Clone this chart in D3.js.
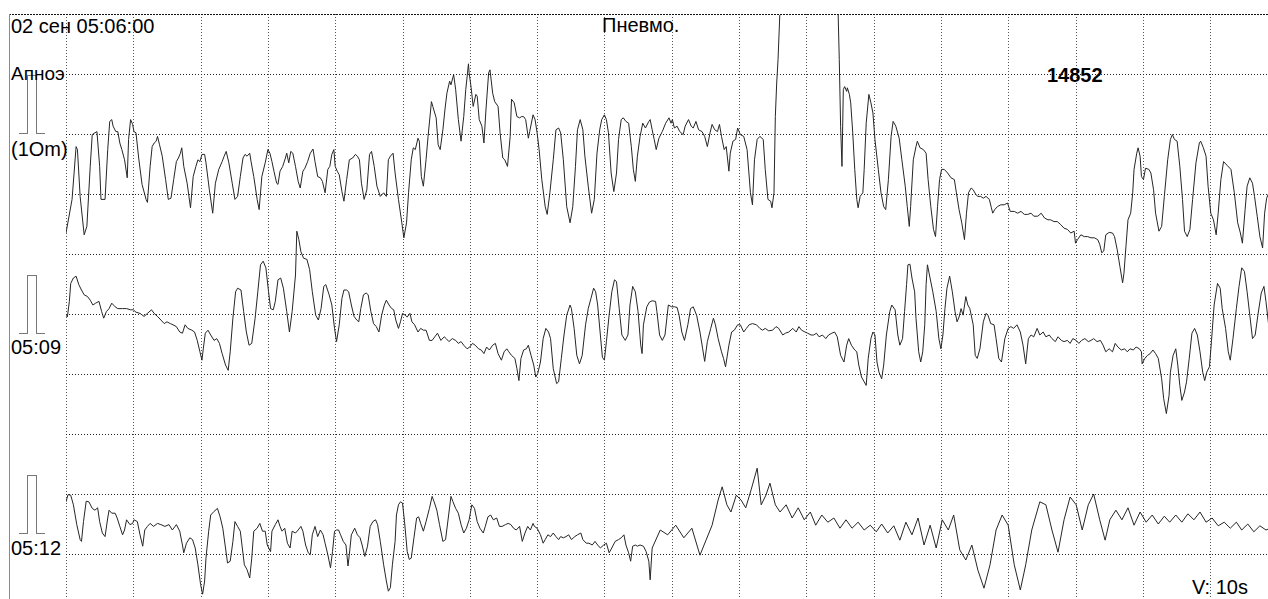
<!DOCTYPE html>
<html>
<head>
<meta charset="utf-8">
<script src="https://cdn.jsdelivr.net/npm/d3@7"></script>
<style>
	body { margin: 0; background: #fff; }
	svg { display: block; }
	text { font-family: "Liberation Sans", Arial, sans-serif; fill: #000; }
</style>
</head>
<body>
<div id="plot"></div>
<script>
// header / row texts
var headerDate = "02 сен 05:06:00";
var headerTitle = "Пневмо.";
var channelName = "Апноэ";
var channelScale = "(1Om)";
var rowTimes = ["05:09", "05:12"];
var recordNo = "14852";
var speedLabel = "V: 10s";

// time in seconds from row start, amplitude in 1/10 of a grid division
var trace1 = [[0,-6.5],[0.9,-0.9],[1.5,7.9],[1.7,7.4],[2.1,-0.4],[2.7,-6.8],[3.1,-5.4],[3.6,4.6],[3.9,9.9],[4.3,10.2],[4.6,10.4],[5.0,4.6],[5.2,-0.9],[5.8,-0.9],[6.2,7.4],[6.5,12.1],[6.8,12.4],[7.0,11.3],[7.4,10.4],[7.7,10.4],[8.0,8.5],[8.3,7.4],[8.7,5.7],[9.1,2.7],[9.3,9.1],[9.6,12.4],[9.9,11.6],[10.1,10.4],[10.4,10.2],[10.8,6],[11.3,1.6],[11.9,-0.9],[12.1,-1.4],[12.5,4.6],[12.8,7.9],[13.1,8.5],[13.4,8.8],[13.6,9.6],[13.9,8.2],[14.3,6.3],[14.8,2.4],[15.2,-0.9],[15.6,-0.7],[16,2.4],[16.4,5.4],[16.7,6],[17,6.8],[17.2,7.7],[17.5,4.6],[18,1.8],[18.5,-2.3],[18.9,2.9],[19.3,4.6],[19.6,5.7],[19.9,5.4],[20.2,6.6],[20.6,6.6],[20.8,5.2],[21.3,0.7],[21.8,-3.2],[22.2,1.8],[22.7,4.1],[23.2,5.4],[23.5,6.3],[23.8,7.1],[24.2,5.2],[24.7,1.8],[25.1,-0.9],[25.5,-0.4],[25.9,2.9],[26.3,6],[26.6,6.6],[26.9,6.3],[27.3,6.8],[27.5,5.4],[27.9,2.9],[28.4,-0.9],[28.7,-2.6],[29.1,2.9],[29.6,5.2],[30.0,7.4],[30.3,6.8],[30.6,5.4],[30.9,3.8],[31.3,1.8],[31.5,1.6],[31.8,3.8],[32.2,4.6],[32.6,6],[32.8,6.8],[33.1,5.2],[33.4,7.1],[33.7,6.8],[34.1,4.6],[34.5,2.1],[34.8,1],[35.2,3.8],[35.5,4.3],[35.9,5.4],[36.3,6.8],[36.7,7.5],[37,5.4],[37.4,2.9],[37.8,2.7],[38.1,2.1],[38.5,0.2],[38.9,4.1],[39.2,4.6],[39.5,6.6],[39.8,7.4],[40,4.6],[40.3,3.8],[40.6,3.2],[41,0.4],[41.3,-1.2],[41.7,2.4],[42.1,5.7],[42.6,6],[43,6.6],[43.3,6.3],[43.6,5.7],[43.9,1.8],[44.3,-0.9],[44.7,0.7],[45.1,6.6],[45.4,7.1],[45.8,4.6],[46.2,1.3],[46.7,-0.4],[47.2,0.2],[47.6,-0.4],[47.9,5.7],[48.2,6.3],[48.6,6.8],[48.9,3.5],[49.4,-0.9],[49.9,-4.8],[50.2,-7.3],[50.6,-4.8],[50.9,0.2],[51.3,5.7],[51.6,7.7],[51.9,7.4],[52.3,9.3],[52.5,8.8],[52.8,2.9],[53.1,1.3],[53.5,5.7],[53.8,9.6],[54.3,15.4],[54.5,14.6],[55,12.7],[55.3,8.2],[55.6,7.4],[56,10.7],[56.3,14],[56.6,16.8],[57,18.8],[57.2,18.2],[57.6,19.9],[57.9,17.4],[58.3,12.4],[58.7,8.8],[59.1,12.9],[59.4,17.4],[59.8,21.7],[59.9,20.2],[60.2,17.7],[60.5,14.6],[60.9,16.6],[61.1,16.3],[61.4,12.4],[61.8,11.3],[62.1,8.5],[62.4,14],[62.8,20.2],[63,20.7],[63.4,16.8],[63.7,15.4],[64.2,14.6],[64.5,10.2],[64.9,6],[65.2,5.7],[65.6,4.6],[66,9.6],[66.2,15.8],[66.6,15.2],[67,12.9],[67.4,12.7],[67.7,12.9],[68,12.9],[68.3,12.4],[68.7,9.3],[68.9,10.4],[69.4,13.2],[69.7,12.4],[70,10.2],[70.3,7.4],[70.7,2.4],[71.2,-2.1],[71.5,-3.4],[71.9,0.2],[72.4,5.7],[72.8,10.7],[73.2,11],[73.5,10.2],[73.9,5.7],[74.4,-2.1],[74.9,-4.8],[75.3,-2.1],[75.7,4.6],[76,10.7],[76.4,12.4],[76.8,10.7],[77.1,6.3],[77.6,1.3],[78.1,-3.2],[78.5,-0.9],[78.9,6.8],[79.3,10.7],[79.6,12.4],[80,13.2],[80.3,12.4],[80.6,10.2],[81,3.5],[81.4,0.4],[81.8,3.5],[82.1,9.1],[82.5,12.4],[82.8,12.7],[83.2,12.1],[83.6,11.8],[84,7.9],[84.3,4.1],[84.6,2.1],[84.9,6.3],[85.3,9.6],[85.7,11.8],[86.1,11],[86.6,12.1],[86.8,12.4],[87.1,10.7],[87.4,9.1],[87.7,7.4],[88.1,9.3],[88.6,10.4],[89.1,11.8],[89.6,12.7],[89.9,11.8],[90.1,12.4],[90.4,11],[90.8,11.3],[91.2,10.4],[91.7,9.9],[92,11.3],[92.5,12.4],[92.9,11.3],[93.2,11],[93.6,12.1],[94,10.7],[94.5,10.4],[94.9,9.6],[95.3,7.9],[95.7,10.2],[96,11.6],[96.4,10.7],[96.8,10.4],[97.1,11.6],[97.4,9.6],[97.8,7.4],[98.1,7.9],[98.5,3.8],[98.7,6.8],[99.1,8.8],[99.5,9.1],[99.8,11],[100.2,9.9],[100.7,9.6],[101.2,7.4],[101.7,0.2],[102,-1.8],[102.3,5.7],[102.7,9.1],[103.1,9.6],[103.6,9.1],[103.9,4.1],[104.3,-0.9],[104.7,-1.2],[104.9,-2.3],[105.2,0.2],[105.4,12.9],[105.6,18.5],[105.8,22.4],[106.1,31],[106.4,36],[114.6,36],[114.9,22.4],[115.1,11.3],[115.3,4.6],[115.5,17.4],[115.7,17.9],[116,17.1],[116.1,17.7],[116.4,16.6],[116.6,15.2],[116.9,10.2],[117.2,4.1],[117.5,-0.9],[117.7,-2.3],[118,-0.4],[118.4,0.2],[118.6,4.1],[118.9,11.8],[119.3,16.6],[119.6,15.2],[119.9,13.5],[120.2,9.1],[120.7,4.1],[121.1,0.2],[121.5,-2.1],[121.8,-2.6],[122.2,2.4],[122.6,9.6],[122.9,12.1],[123.3,11.3],[123.8,9.3],[124.2,5.7],[124.7,1.3],[125,-2.1],[125.3,-5.4],[125.5,-2.1],[125.9,5.7],[126.3,7.9],[126.5,8.8],[126.9,7.7],[127.4,7.4],[127.8,6.8],[128.1,2.4],[128.5,-2.1],[128.9,-5.9],[129.2,-7.1],[129.5,-2.1],[129.8,2.4],[130.1,4.1],[130.5,4.1],[131,3.5],[131.5,2.7],[132,2.4],[132.3,0.2],[132.7,-2.6],[133.1,-4.8],[133.5,-7.6],[133.8,-3.2],[134.1,0.2],[134.5,1],[134.8,0.7],[135.2,-0.1],[135.5,-0.4],[135.9,-0.4],[136.3,-0.7],[136.7,-0.4],[137.2,-0.9],[137.5,-2.3],[137.7,-3.2],[138,-2.6],[138.4,-2.1],[138.9,-1.8],[139.4,-1.8],[139.9,-1.5],[140.3,-2.9],[140.9,-2.9],[141.4,-3.2],[141.9,-2.9],[142.4,-3.4],[142.9,-3.4],[143.4,-3.2],[143.8,-3.7],[144.4,-3.7],[144.9,-3.2],[145.4,-4],[145.9,-4.3],[146.3,-4.3],[146.8,-4.6],[147.3,-4.6],[147.8,-5.1],[148.3,-5.7],[148.8,-5.9],[149.3,-6.5],[149.8,-6.2],[150,-8.2],[150.3,-7.6],[150.8,-6.8],[151.3,-7.1],[151.8,-7.1],[152.3,-7.3],[152.8,-7.3],[153.3,-7.6],[153.6,-8.4],[153.9,-9.8],[154.2,-9.5],[154.5,-6.8],[155,-6.4],[155.5,-6.5],[155.8,-7.1],[156.2,-9.3],[156.6,-12.1],[157,-14.8],[157.2,-13.2],[157.5,-8.7],[157.8,-4.3],[158.2,-3.2],[158.5,0.2],[158.7,4.1],[159.1,6.8],[159.3,7.7],[159.6,6.3],[159.8,2.9],[160.1,2.4],[160.4,4.3],[160.9,4.1],[161.2,3.5],[161.6,0.7],[161.9,-3.2],[162.4,-6.2],[162.8,-5.4],[163.2,-0.4],[163.7,5.7],[164.1,9.1],[164.4,9.9],[164.7,9.1],[165.1,8.8],[165.5,4.6],[165.9,-0.9],[166.2,-6.2],[166.6,-7.1],[167,-5.9],[167.4,-0.9],[167.9,5.2],[168.4,8.5],[168.6,8.8],[169,7.7],[169.4,6.3],[169.7,1.3],[170.1,-3.2],[170.5,-4.3],[170.9,-6.8],[171.2,-3.2],[171.6,2.4],[172,5.4],[172.5,4.8],[173.1,4.1],[173.6,0.2],[174.1,-4.8],[174.5,-6.5],[174.8,-8.2],[175.2,-2.6],[175.5,1.3],[175.9,2.7],[176.3,1.8],[176.6,-0.4],[177,-3.7],[177.4,-7.1],[177.8,-9],[178.1,-3.2],[178.4,-0.7],[178.8,0.4],[179,-0.4]];

var trace2 = [[0,9.8],[0.2,9.5],[0.5,12.1],[0.7,15.1],[1.1,16],[1.5,16.3],[1.9,14.9],[2.3,14],[2.7,13.2],[3.2,12.9],[3.6,12.3],[4,11.5],[4.4,11.8],[4.9,12.1],[5.3,10.4],[5.6,9.3],[6,10.4],[6.4,10.9],[6.8,11.8],[7.3,11.2],[7.7,10.9],[8.4,10.9],[9,10.9],[9.6,10.7],[10,10.7],[10.4,10.3],[11,10.1],[11.6,9.6],[12.1,10.1],[12.7,10.7],[13.1,10.1],[13.6,9.6],[14.1,9],[14.6,8.4],[15,8.7],[15.5,8.4],[15.9,8.2],[16.4,7.9],[16.9,7],[17.3,6.8],[17.7,8.2],[18.1,7.6],[18.7,7.3],[19.1,7],[19.5,5.6],[19.9,3.7],[20.2,2.3],[20.4,4.2],[20.7,6.8],[21.1,7.3],[21.5,6.5],[22,5.6],[22.4,5.9],[22.8,5.1],[23.2,3.4],[23.7,1.5],[24.1,0.6],[24.4,3.7],[24.8,9.3],[25.2,13.7],[25.5,14.3],[26,14],[26.4,10.4],[26.8,7],[27.2,4.8],[27.6,5.1],[28.1,9.3],[28.5,13.7],[28.9,18.2],[29.3,18.8],[29.7,17.7],[30.1,13.7],[30.4,10.9],[30.8,10.7],[31.1,12.1],[31.5,15.7],[31.9,16],[32.3,14.3],[32.8,10.4],[33.2,7],[33.6,10.4],[34.1,16.5],[34.3,23.8],[34.6,22.4],[34.9,20.4],[35.3,19.3],[35.8,19.1],[36.2,17.4],[36.6,13.7],[37.1,9.8],[37.5,9],[37.9,10.9],[38.3,14.6],[38.6,14.9],[39.1,13.2],[39.5,11.5],[39.9,7.6],[40.2,5.4],[40.6,8.2],[41,12.6],[41.3,14],[41.7,14],[42,13.7],[42.4,11.5],[42.8,9.6],[43.2,9],[43.5,8.7],[43.8,10.9],[44.2,13.2],[44.6,13.5],[44.9,13.2],[45.3,10.4],[45.7,8.4],[46.1,7.9],[46.5,7],[46.9,9.8],[47.3,11.5],[47.6,12.3],[48,11.5],[48.4,10.9],[48.7,10.7],[49,9],[49.4,7.6],[49.7,8.7],[50,10.1],[50.4,9.8],[50.7,9.5],[51.1,10.1],[51.4,8.7],[51.8,8.2],[52.3,7],[52.7,7.6],[53.1,7.3],[53.5,7.3],[54,5.6],[54.4,5.6],[54.8,6.2],[55.2,6.8],[55.7,5.6],[56.2,6.2],[56.5,5.9],[56.9,5.4],[57.4,5.9],[57.9,5.6],[58.3,5.1],[58.7,5.4],[59.1,4.8],[59.6,4.2],[60,4.5],[60.4,5.1],[60.8,4.8],[61.3,4.2],[61.7,4],[62.1,3.4],[62.5,4.5],[62.9,4],[63.4,4.8],[63.8,5.1],[64.2,3.4],[64.7,2.3],[65.1,3.7],[65.5,4.2],[65.8,3.7],[66.2,3.1],[66.7,2.6],[67,0.9],[67.3,-1.1],[67.6,2.6],[68,4],[68.4,4.2],[68.7,4.8],[69.1,3.1],[69.5,1.5],[69.8,-0.5],[70.1,0.1],[70.5,2],[70.9,5.9],[71.3,7.6],[71.7,7],[72,5.9],[72.4,0.9],[72.9,-1.6],[73.2,-1.3],[73.6,2.6],[74,6.5],[74.4,9.8],[74.9,11.5],[75.1,10.9],[75.5,7.6],[75.9,3.1],[76.3,1.7],[76.7,3.1],[77.2,8.2],[77.6,10.9],[78,12.6],[78.4,14.3],[78.7,13.7],[79,11.5],[79.4,6.5],[79.7,2.8],[80,2.3],[80.3,5.4],[80.7,9.8],[81.1,13.7],[81.5,15.7],[81.8,15.4],[82.2,10.9],[82.6,6.5],[83.1,5.6],[83.5,6.5],[83.8,11.5],[84.2,14.6],[84.6,13.7],[85,10.4],[85.4,4.8],[85.6,3.4],[85.8,8.2],[86.3,11.2],[86.7,12],[87.1,12.2],[87.6,12.1],[87.8,10.4],[88.2,6.5],[88.6,5.6],[89,6.5],[89.5,11.5],[90,11.2],[90.4,11.2],[90.8,11.1],[91.1,9.8],[91.5,7],[91.9,5.6],[92.4,8.2],[92.8,10.9],[93.2,11.2],[93.7,9.8],[94.2,7],[94.6,4.2],[94.9,2.1],[95.3,5.4],[95.8,7.6],[96.2,9.3],[96.5,8.2],[96.9,5.9],[97.4,3.7],[97.7,2.6],[98,1.2],[98.5,4.8],[98.9,7],[99.3,7.3],[99.8,8.2],[100.2,8.2],[100.7,7],[101.1,7.6],[101.5,8.2],[102,8.4],[102.6,8.2],[103.1,7.6],[103.5,7.3],[103.9,7.6],[104.4,7.2],[105,7.3],[105.5,7.9],[105.9,7.6],[106.5,6.5],[106.9,6.8],[107.4,7],[108,7.6],[108.5,7],[108.9,7.9],[109.3,7.3],[109.8,7],[110.2,6.8],[110.7,6.5],[111.1,6.5],[111.5,6.8],[111.9,6.2],[112.4,6.5],[112.9,5.9],[113.3,6.5],[113.8,6.8],[114.2,7],[114.6,6.2],[115.1,3.1],[115.6,2],[116,4.8],[116.3,5.9],[116.7,4.8],[117.2,4],[117.5,3.7],[117.8,1.5],[118.2,-0.5],[118.6,-1.3],[118.9,-1.9],[119.2,2.6],[119.6,5.9],[119.9,7],[120.2,6.5],[120.5,2],[120.8,0.3],[121.2,-0.8],[121.5,1.5],[121.9,6.5],[122.4,10.4],[122.7,11.5],[123.2,10.7],[123.6,6.5],[123.9,4.8],[124.3,5.9],[124.6,10.4],[124.9,14.9],[125.1,18.2],[125.4,18.3],[125.7,16],[126.1,13.7],[126.3,9.3],[126.7,3.7],[127,2],[127.3,3.7],[127.6,8.2],[127.8,14.9],[128,18.2],[128.3,16.5],[128.8,13.7],[129.3,10.4],[129.7,5.9],[130,4.2],[130.3,6.5],[130.6,10.9],[130.9,14.3],[131.3,16.3],[131.7,13.7],[132.1,10.4],[132.4,8.7],[132.7,9.5],[133,10.9],[133.3,9.8],[133.7,12.9],[134,11.5],[134.3,10.9],[134.8,8.2],[135.1,3.1],[135.4,2.6],[135.8,4.2],[136.3,8.7],[136.7,10.1],[137,9.8],[137.4,8.4],[137.9,8.2],[138.2,5.9],[138.6,2.6],[139,2],[139.5,5.9],[140,7.6],[140.4,7.9],[140.8,7.6],[141.3,8.2],[141.8,7],[142.2,4.8],[142.6,1.7],[143,5.9],[143.4,6.5],[143.8,6.2],[144.3,7.6],[144.7,6.5],[145.2,7],[145.6,6.2],[146.1,6.5],[146.5,5.9],[147,5.4],[147.4,6.2],[147.9,5.6],[148.3,5.4],[148.8,5.6],[149.2,5.1],[149.6,5.9],[150.1,5.6],[150.5,5.1],[150.9,5.6],[151.4,5.9],[151.9,5.4],[152.3,5.6],[152.7,5.9],[153.2,5.4],[153.7,5.6],[154.1,4.8],[154.5,3.7],[155,4.2],[155.5,3.7],[155.9,5.1],[156.3,4.5],[156.8,4],[157.3,4.2],[157.7,3.7],[158.1,4.2],[158.6,4],[159,4.5],[159.5,4.2],[159.8,3.7],[159.9,1.7],[160.3,2.6],[160.7,3.1],[161.1,3.4],[161.5,4],[161.9,3.4],[162.3,2.6],[162.8,-0.8],[163.1,-4.1],[163.5,-6.6],[163.9,-3.6],[164.1,0.3],[164.5,3.1],[164.9,4.2],[165.2,1.5],[165.5,-1.9],[165.8,-4.4],[166.2,-3],[166.5,-1.3],[166.9,2.6],[167.3,6.8],[167.7,7.6],[168.1,6.5],[168.5,3.7],[168.9,0.3],[169.2,-1.1],[169.5,0.3],[169.9,1.2],[170.2,5.4],[170.6,11.5],[171.1,15.1],[171.5,14.3],[171.8,10.9],[172.3,7.6],[172.7,3.7],[173,2.3],[173.4,5.9],[173.9,10.9],[174.3,14.6],[174.7,17.7],[175.1,17.1],[175.5,13.7],[175.9,9.8],[176.3,5.9],[176.7,6.5],[177.1,9.8],[177.6,13.5],[178,14.6],[178.3,12.1],[178.7,8.2],[179,6.5]];

var trace3 = [[0,8.7],[0.3,9.9],[0.7,9.8],[1.1,8.2],[1.6,4.9],[2.1,2.4],[2.3,2.1],[2.6,5.4],[3,8.8],[3.4,8.7],[3.9,7.6],[4.3,7.3],[4.7,7.7],[5,5.4],[5.4,3.5],[5.8,2.9],[6.2,6],[6.4,7.3],[6.8,6.8],[7.3,6.8],[7.6,6],[8,4.6],[8.4,3.2],[8.7,4],[9,5.7],[9.5,4.9],[9.9,5.1],[10.1,5.7],[10.6,5.4],[11,3.2],[11.4,1.3],[11.7,4],[12.1,4.6],[12.5,5.1],[13,4.6],[13.6,5.1],[14.1,4.9],[14.7,4.6],[15.3,4.9],[15.8,4],[16.4,4.9],[16.9,3.8],[17.3,1.5],[17.5,0.2],[17.9,1.8],[18.4,2.7],[18.8,2.4],[19.2,1],[19.6,-1.8],[20,-5.1],[20.3,-6.7],[20.6,-4.5],[20.8,-0.7],[21.2,3.8],[21.5,6.5],[22,7.1],[22.5,7.6],[22.9,6.2],[23.3,4.3],[23.7,1],[24,-1.5],[24.4,-1.2],[24.8,2.1],[25.1,5.4],[25.5,4.6],[25.9,3.8],[26.2,1],[26.5,-1.8],[26.9,-2.6],[27.3,-4],[27.6,-0.7],[27.9,3.8],[28.4,4.3],[28.8,5.1],[29.2,3.8],[29.6,3.8],[29.9,1.5],[30.4,0.4],[30.6,3.8],[31.1,4.9],[31.5,5.7],[31.8,4.6],[32.1,3.8],[32.5,4.3],[32.9,1.8],[33.3,1],[33.6,3.8],[34.1,3.5],[34.5,4],[34.9,4.6],[35.2,3.8],[35.6,1.5],[36,0.2],[36.3,-0.1],[36.6,3.2],[37,4.6],[37.4,2.9],[37.8,4],[38.2,3.2],[38.5,1.8],[38.9,-0.1],[39.3,-2.3],[39.6,0.4],[39.9,3.8],[40.2,4],[40.5,4],[40.8,3.2],[41.2,2.1],[41.6,1.5],[41.9,-2],[42.1,-0.1],[42.4,3.2],[42.9,4.3],[43.3,3.2],[43.7,2.7],[44,1.5],[44.4,-0.4],[44.8,1.3],[45.2,4.6],[45.6,5.4],[46,5.7],[46.3,4.9],[46.7,2.1],[47.2,-1.8],[47.6,-4.5],[47.9,-6.2],[48.2,-5.6],[48.5,-1.8],[48.9,2.1],[49.1,6.5],[49.4,8.2],[49.7,8.7],[50,8.5],[50.3,5.4],[50.7,0.4],[51,-0.9],[51.3,-0.7],[51.7,2.7],[52.1,6],[52.4,6.2],[52.7,5.1],[53.1,3.8],[53.5,5.4],[54,7.6],[54.4,9.6],[54.7,8.7],[55.1,7.3],[55.5,4.9],[56,2.1],[56.4,2.4],[56.8,6],[57.2,9.6],[57.5,8.7],[57.9,7.6],[58.3,6.8],[58.7,4.9],[59.1,3.5],[59.5,4.3],[59.9,5.7],[60.3,8.2],[60.7,7.6],[61.1,5.4],[61.5,4.3],[62,3.5],[62.3,4.6],[62.7,6.2],[63.1,6.5],[63.5,5.7],[64,6],[64.4,4.6],[64.8,4.6],[65.3,4.9],[65.7,5.1],[66.1,4.9],[66.5,4.3],[66.9,4],[67.4,4.6],[67.8,2.1],[68.2,3.5],[68.6,4.6],[69,4],[69.4,5.1],[69.6,4.6],[70,4.3],[70.5,3.2],[70.9,1.8],[71.2,2.4],[71.6,3.2],[72,2.9],[72.4,3.5],[72.8,2.9],[73.2,2.4],[73.5,2.9],[73.9,2.7],[74.3,2.9],[74.7,3.2],[75.1,2.4],[75.6,2.9],[76,3.2],[76.5,3.5],[76.8,2.4],[77.3,1.8],[77.7,1.8],[78.2,1.5],[78.6,2.1],[79,1.5],[79.4,1],[79.9,1.5],[80.3,1.8],[80.7,0.2],[81.1,1],[81.6,2.1],[82.1,2.4],[82.5,2.7],[82.9,3.2],[83.2,1.5],[83.6,0.2],[83.9,-1.2],[84.2,1.3],[84.6,1.5],[84.9,1.3],[85.3,1.5],[85.8,1.3],[86.2,0.4],[86.6,-1.2],[86.8,-4.3],[87.1,1],[88.3,4],[89.4,3.2],[90.6,4.8],[91.8,2.7],[93,4.3],[94.2,-0.2],[95.1,2.3],[96,4.8],[96.9,9],[97.5,11.2],[98.2,8.2],[98.8,7],[99.6,9.8],[100.3,9],[101,7.7],[101.8,10.7],[102.7,14.3],[103.3,8.2],[104,9.8],[104.6,11.8],[105.4,8.2],[106.1,7],[107,8.2],[107.9,6],[108.8,7.7],[109.7,5.7],[110.6,7],[111.4,4.8],[112.3,6.5],[113.2,5.3],[114.1,6],[115,4.3],[115.9,5.7],[116.8,4.3],[117.7,5.3],[118.6,4],[119.5,4.8],[120.4,3.7],[121.2,5],[122.1,3.5],[123,4.7],[123.9,2.3],[124.8,5.3],[125.7,3.2],[126.6,6],[127.5,1.5],[128.4,4.8],[129.3,1],[130.2,5.7],[131.1,4],[131.9,6.5],[132.8,0.7],[133.7,-1],[134.6,1.5],[135.5,-2.7],[136.4,-5.7],[137.3,-1.8],[138.2,4],[139.1,6.5],[140,4.8],[140.9,-1.8],[141.8,-6],[142.6,-1.8],[143.5,4],[144.7,8.7],[145.6,8.2],[146.5,4],[147.4,0.3],[148.3,5.7],[149.2,9.5],[150.1,8.2],[151,4],[151.9,8.2],[152.7,10],[153.6,5.7],[154.4,2.3],[155.1,5.7],[156,7.3],[156.9,5.7],[157.8,7.7],[158.7,4.8],[159.6,7],[160.5,5.3],[161.4,6.5],[162.3,5],[163.2,6.3],[164,5.3],[164.9,6.5],[165.8,5.3],[166.7,6.7],[167.6,5.7],[168.5,7],[169.4,5.3],[170.3,6],[171.2,4.7],[172.1,5.3],[173,4.3],[173.9,5.3],[174.7,4],[175.6,5],[176.5,3.7],[177.4,4.7],[178.3,4],[179,4.3]];

var traces = [trace1, trace2, trace3];

var width = 1268, height = 599;
var plotLeft = 66, plotTop = 14, division = 67.3;
var rowBases = [194, 374, 554];

var svg = d3.select("#plot").append("svg")
	.attr("width", width)
	.attr("height", height);

svg.append("rect").attr("width", width).attr("height", height).attr("fill", "#fff");

var x = d3.scaleLinear().domain([0, 180]).range([plotLeft, plotLeft + 18 * division]);
var gridY = d3.scaleLinear().domain([0, 10]).range([plotTop, plotTop + 600]);

// grid
var grid = svg.append("g").attr("shape-rendering", "crispEdges");
grid.selectAll(".vgrid")
	.data(d3.range(0, 180, 10))
	.enter().append("line")
	.attr("x1", function(d) { return Math.round(x(d)) + 0.5; })
	.attr("x2", function(d) { return Math.round(x(d)) + 0.5; })
	.attr("y1", plotTop)
	.attr("y2", height)
	.attr("stroke", "#555")
	.attr("stroke-dasharray", "1,2");

grid.selectAll(".hgrid")
	.data(d3.range(1, 10))
	.enter().append("line")
	.attr("x1", plotLeft)
	.attr("x2", width)
	.attr("y1", function(d) { return Math.round(gridY(d)) + 0.5; })
	.attr("y2", function(d) { return Math.round(gridY(d)) + 0.5; })
	.attr("stroke", "#222")
	.attr("stroke-dasharray", "1,2");

// frame: top dotted, left solid
grid.append("line")
	.attr("x1", 9).attr("x2", width)
	.attr("y1", plotTop + 0.5).attr("y2", plotTop + 0.5)
	.attr("stroke", "#111")
	.attr("stroke-dasharray", "2,1");
grid.append("line")
	.attr("x1", 9.5).attr("x2", 9.5)
	.attr("y1", plotTop).attr("y2", height)
	.attr("stroke", "#8a8a8a")
	.attr("stroke-width", 1.5);

// calibration pulses
var pulse = svg.append("g").attr("fill", "none").attr("stroke", "#777").attr("shape-rendering", "crispEdges");
[0, 1, 2].forEach(function(i) {
	var top = 75 + i * 200 + 0.5, bottom = 133 + i * 200 + 0.5;
	pulse.append("path")
		.attr("d", "M19," + bottom + "H27.5V" + top + "H36.5V" + bottom + "H45");
});

// traces
svg.append("clipPath").attr("id", "clip")
	.append("rect")
	.attr("x", plotLeft).attr("y", plotTop + 1)
	.attr("width", width - plotLeft).attr("height", height - plotTop);

traces.forEach(function(data, i) {
	var y = d3.scaleLinear().domain([0, 10]).range([rowBases[i], rowBases[i] - 60]);
	var line = d3.line()
		.x(function(d) { return x(d[0]); })
		.y(function(d) { return y(d[1]); });
	svg.append("path")
		.datum(data)
		.attr("clip-path", "url(#clip)")
		.attr("d", line)
		.attr("fill", "none")
		.attr("stroke", "#262626")
		.attr("stroke-width", 1);
});

// texts
function label(txt, px, py, size, weight) {
	svg.append("text")
		.attr("x", px).attr("y", py)
		.style("font-size", size + "px")
		.style("font-weight", weight || "normal")
		.text(txt);
}
label(headerDate, 11, 33, 20);
label(headerTitle, 602, 32, 20);
label(channelName, 11, 80, 19);
label(channelScale, 11, 156, 20);
label(rowTimes[0], 11, 354, 20);
label(rowTimes[1], 11, 555, 20);
label(recordNo, 1047, 82, 20, "bold");
label(speedLabel, 1192, 594, 20);
</script>
</body>
</html>
